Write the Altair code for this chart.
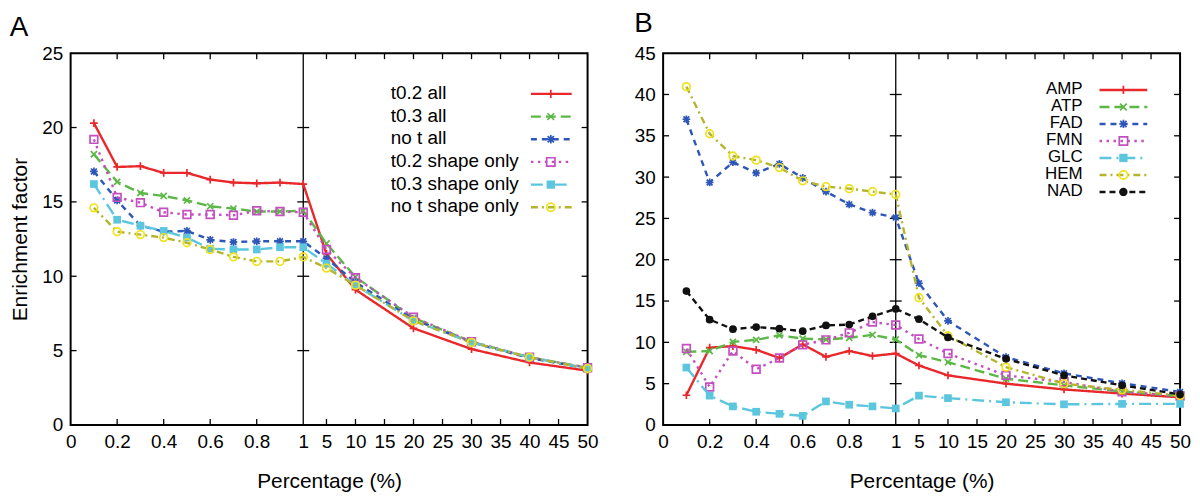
import altair as alt
import pandas as pd

FONT = "Liberation Sans"

# ---------------- data ----------------
X_POINTS = [0.1, 0.2, 0.3, 0.4, 0.5, 0.6, 0.7, 0.8, 0.9, 1.0, 5, 10, 20, 30, 40, 50]
X_TICKS = [0, 0.2, 0.4, 0.6, 0.8, 1, 5, 10, 15, 20, 25, 30, 35, 40, 45, 50]

A_NAMES = ["t0.2 all", "t0.3 all", "no t all", "t0.2 shape only", "t0.3 shape only", "no t shape only"]
A_T02_ALL = [20.3, 17.35, 17.4, 16.95, 16.95, 16.5, 16.3, 16.25, 16.3, 16.2, 11.5, 9.1, 6.5, 5.1, 4.2, 3.65]
A_T03_ALL = [18.2, 16.35, 15.6, 15.4, 15.1, 14.7, 14.55, 14.35, 14.35, 14.4, 12.2, 9.95, 7.2, 5.6, 4.55, 3.85]
A_NOT_ALL = [17.05, 15.1, 13.4, 13.0, 13.05, 12.45, 12.3, 12.35, 12.35, 12.35, 11.2, 9.6, 7.1, 5.55, 4.5, 3.8]
A_T02_SHAPE = [19.2, 15.3, 14.95, 14.3, 14.15, 14.15, 14.1, 14.4, 14.35, 14.3, 11.8, 9.9, 7.25, 5.6, 4.55, 3.85]
A_T03_SHAPE = [16.2, 13.8, 13.4, 13.05, 12.6, 11.85, 11.8, 11.8, 11.95, 11.95, 10.85, 9.4, 7.0, 5.55, 4.55, 3.8]
A_NOT_SHAPE = [14.6, 13.0, 12.8, 12.6, 12.25, 11.8, 11.3, 11.0, 11.0, 11.3, 10.55, 9.4, 7.0, 5.55, 4.55, 3.8]
A_YTICKS = [0, 5, 10, 15, 20, 25]

B_NAMES = ["AMP", "ATP", "FAD", "FMN", "GLC", "HEM", "NAD"]
B_AMP = [3.6, 9.35, 9.55, 9.1, 8.1, 9.75, 8.25, 8.95, 8.35, 8.65, 7.2, 6.0, 5.0, 4.3, 3.8, 3.35]
B_ATP = [8.85, 8.95, 10.05, 10.3, 10.85, 10.45, 10.35, 10.55, 10.9, 10.35, 8.45, 7.6, 5.6, 4.8, 4.05, 3.5]
B_FAD = [37.0, 29.35, 31.8, 30.5, 31.6, 29.9, 28.25, 26.7, 25.7, 25.1, 17.15, 12.6, 8.2, 6.25, 5.05, 4.0]
B_FMN = [9.25, 4.6, 8.95, 6.75, 8.1, 9.7, 10.3, 11.15, 12.45, 12.1, 10.4, 8.65, 6.0, 5.2, 4.0, 3.5]
B_GLC = [6.95, 3.55, 2.25, 1.6, 1.35, 1.1, 2.85, 2.45, 2.25, 2.0, 3.55, 3.25, 2.75, 2.5, 2.55, 2.55]
B_HEM = [40.95, 35.25, 32.55, 32.05, 31.15, 29.55, 28.85, 28.6, 28.25, 27.9, 15.4, 10.8, 7.0, 5.0, 4.25, 3.55]
B_NAD = [16.2, 12.75, 11.6, 11.85, 11.65, 11.35, 12.05, 12.15, 13.15, 14.05, 12.8, 10.6, 8.0, 6.0, 4.8, 3.7]
B_YTICKS = [0, 5, 10, 15, 20, 25, 30, 35, 40, 45]

# ---------------- styles ----------------
RED, GREEN, BLUE = "#e8282b", "#5cb846", "#2c56b8"
MAGENTA, CYAN, OLIVE, YELLOW, BLACK = "#c44fc0", "#5cc6df", "#b4b42e", "#efe21a", "#111111"
PLUS = "M-1,0L1,0M0,-1L0,1"
XMARK = "M-0.8,-0.8L0.8,0.8M-0.8,0.8L0.8,-0.8"
STAR = "M-1,0L1,0M0,-1L0,1M-0.75,-0.75L0.75,0.75M-0.75,0.75L0.75,-0.75"

# (line colour, dash, point colour, shape, filled)
STY = [
    (RED, [1, 0], RED, PLUS, False),
    (GREEN, [10, 5], GREEN, XMARK, False),
    (BLUE, [6, 5], BLUE, STAR, False),
    (MAGENTA, [2.5, 4.5], MAGENTA, "square", False),
    (CYAN, [12, 5, 2, 5], CYAN, "square", True),
    (OLIVE, [7, 4, 2, 4], YELLOW, "circle", False),
    (BLACK, [6, 4], BLACK, "circle", True),
]

W, H, SPLIT = 520, 374, 234


def panel(letter, names, series, yticks, ytitle, title_offset, legend):
    xscale = alt.Scale(domain=[0, 1, 50], range=[0, SPLIT, W], nice=False, zero=False)
    yscale = alt.Scale(domain=[0, yticks[-1]], nice=False, zero=False)
    xaxis = alt.Axis(values=X_TICKS, format="~g", ticks=False, domain=False, grid=False,
                     labelFont=FONT, labelFontSize=19, labelColor="black", labelPadding=8,
                     labelFlush=False, labelOverlap=False,
                     titleFont=FONT, titleFontSize=21, titleFontWeight="normal",
                     titleColor="black", titlePadding=19)
    yaxis = alt.Axis(values=yticks, format="~g", ticks=False, domain=False, grid=False,
                     labelFont=FONT, labelFontSize=19, labelColor="black", labelPadding=8,
                     labelFlush=False, labelOverlap=False,
                     titleFont=FONT, titleFontSize=21, titleFontWeight="normal",
                     titleColor="black", titlePadding=11)

    def X(f="x"):
        return alt.X(f"{f}:Q", scale=xscale, axis=xaxis, title="Percentage (%)")

    def Y(f="y"):
        if ytitle:
            return alt.Y(f"{f}:Q", scale=yscale, axis=yaxis, title=ytitle)
        return alt.Y(f"{f}:Q", scale=yscale, axis=yaxis, title=None)

    layers = []
    # split line
    layers.append(alt.Chart(pd.DataFrame({"x": [1]})).mark_rule(color="black", strokeWidth=1.3)
                  .encode(x=X()))
    # ticks
    inner_x = [v for v in X_TICKS if 0 < v < 50 and v != 1]
    tx = pd.DataFrame({"x": inner_x})
    layers.append(alt.Chart(tx).mark_rule(color="black", strokeWidth=1.3)
                  .encode(x=X(), y=alt.value(H), y2=alt.value(H - 6)))
    layers.append(alt.Chart(tx).mark_rule(color="black", strokeWidth=1.3)
                  .encode(x=X(), y=alt.value(0), y2=alt.value(6)))
    ty = pd.DataFrame({"y": [v for v in yticks if 0 < v < yticks[-1]]})
    layers.append(alt.Chart(ty).mark_rule(color="black", strokeWidth=1.3)
                  .encode(y=Y(), x=alt.value(0), x2=alt.value(6)))
    layers.append(alt.Chart(ty).mark_rule(color="black", strokeWidth=1.3)
                  .encode(y=Y(), x=alt.value(W - 6), x2=alt.value(W)))
    ts = pd.DataFrame({"x": [1] * len(ty), "y": ty["y"]})
    layers.append(alt.Chart(ts).mark_rule(color="black", strokeWidth=1.3, xOffset=-6, x2Offset=6)
                  .encode(x=X(), x2=alt.X2("x"), y=Y()))

    # data series
    for name, vals, (lc, dash, pc, shape, filled) in zip(names, series, STY):
        df = pd.DataFrame({"x": X_POINTS, "y": vals, "series": name})
        base = alt.Chart(df)
        layers.append(base.mark_line(color=lc, strokeWidth=2.4, strokeDash=dash)
                      .encode(x=X(), y=Y()))
        layers.append(base.mark_point(shape=shape, filled=filled, color=pc, size=60,
                                      strokeWidth=1.7, opacity=1)
                      .encode(x=X(), y=Y()))

    # legend (gnuplot style key)
    (text_x, align, fsize, lx1, lx2, mx, top, step) = legend
    for i, (name, (lc, dash, pc, shape, filled)) in enumerate(zip(names, STY)):
        yy = top + i * step
        one = alt.Chart(pd.DataFrame({"series": [name]}))
        layers.append(one.mark_text(align=align, baseline="middle", font=FONT, fontSize=fsize,
                                    color="black")
                      .encode(text="series:N", x=alt.value(text_x), y=alt.value(yy)))
        layers.append(one.mark_rule(color=lc, strokeWidth=2.4, strokeDash=dash)
                      .encode(x=alt.value(lx1), x2=alt.value(lx2), y=alt.value(yy + 1)))
        layers.append(one.mark_point(shape=shape, filled=filled, color=pc, size=70,
                                     strokeWidth=1.7, opacity=1)
                      .encode(x=alt.value(mx), y=alt.value(yy + 1)))

    return alt.layer(*layers).properties(
        width=W, height=H,
        title=alt.TitleParams(letter, anchor="start", fontSize=28, font=FONT,
                              fontWeight="normal", color="black", offset=title_offset),
    )


A = panel("A", A_NAMES,
          [A_T02_ALL, A_T03_ALL, A_NOT_ALL, A_T02_SHAPE, A_T03_SHAPE, A_NOT_SHAPE],
          A_YTICKS, "Enrichment factor", 2,
          (322, "left", 19, 463, 504, 483, 40, 22.8))
B = panel("B", B_NAMES,
          [B_AMP, B_ATP, B_FAD, B_FMN, B_GLC, B_HEM, B_NAD],
          B_YTICKS, "", 6,
          (422, "right", 17, 439, 487, 463, 36, 17.1))

chart = alt.hconcat(A, B, spacing=33).properties(padding=0).configure_view(
    stroke="black", strokeWidth=2
)

chart.save("out.html", embed_options={"renderer": "svg", "actions": False})
